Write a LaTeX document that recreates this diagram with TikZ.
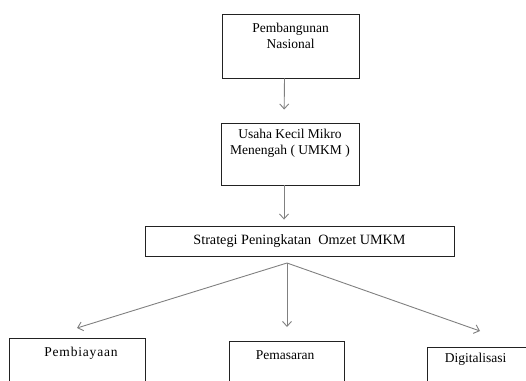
\documentclass[tikz,border=0pt]{standalone}
\usepackage{fontspec}
\setmainfont{Liberation Serif}
\usetikzlibrary{arrows.meta,positioning}
\definecolor{LineGray}{HTML}{808080}
\definecolor{BoxInk}{HTML}{222222}

\begin{document}
\begin{tikzpicture}[
  x=1pt,y=-1pt,
  box/.style={draw=BoxInk,line width=0.9pt,fill=white,inner sep=0pt},
  txt/.style={inner sep=0pt,align=center,font=\fontsize{13.5}{16}\selectfont},
  arr/.style={-{Straight Barb[length=5pt,width=9pt]},draw=LineGray,line width=0.9pt}
]
\useasboundingbox (0,0) rectangle (526,380);
\clip (0,0) rectangle (526,380);
\node[box,minimum width=137,minimum height=64] (nasional) at (290.5,46) {};
\node[txt,anchor=north] (nasionalt) at (290.5,22.5) {Pembangunan\\Nasional};
\node[box,minimum width=138,minimum height=62] (umkm) at (290,154) {};
\node[txt,anchor=north] (umkmt) at (290,128.5) {Usaha Kecil Mikro\\Menengah ( UMKM )};
\node[box,minimum width=309,minimum height=30,font=\fontsize{14.2}{16}\selectfont] (strategi) at (299.5,241) {Strategi Peningkatan\ \ Omzet UMKM};
\node[box,anchor=north,minimum width=136,minimum height=62] (pembiayaan) at (77,338) {};
\node[txt,anchor=base] (pembiayaant) at (81,356) {\addfontfeature{LetterSpace=6}Pembiayaan};
\node[box,anchor=north,minimum width=115,minimum height=62] (pemasaran) at (286.5,341) {};
\node[txt,anchor=base] (pemasarant) at (285,359) {Pemasaran};
\node[box,anchor=north,minimum width=110,minimum height=62] (digital) at (482,347) {};
\node[txt,anchor=base] (digitalt) at (475.5,362) {Digitalisasi};
\coordinate (split) at (287,263);
\coordinate (endkiri) at (77,328);
\coordinate (endtengah) at (287,327);
\coordinate (endkanan) at (480,331);
\draw[arr,shorten >=13pt] ([xshift=-6pt]nasional.south) -- ([xshift=-6pt]umkm.north);
\draw[arr,shorten >=6pt] ([xshift=-6pt]umkm.south) -- ([xshift=-6pt]umkm.south |- strategi.north);
\draw[arr] (split) -- (endkiri);
\draw[arr] (split) -- (endtengah);
\draw[arr] (split) -- (endkanan);
\end{tikzpicture}
\end{document}
